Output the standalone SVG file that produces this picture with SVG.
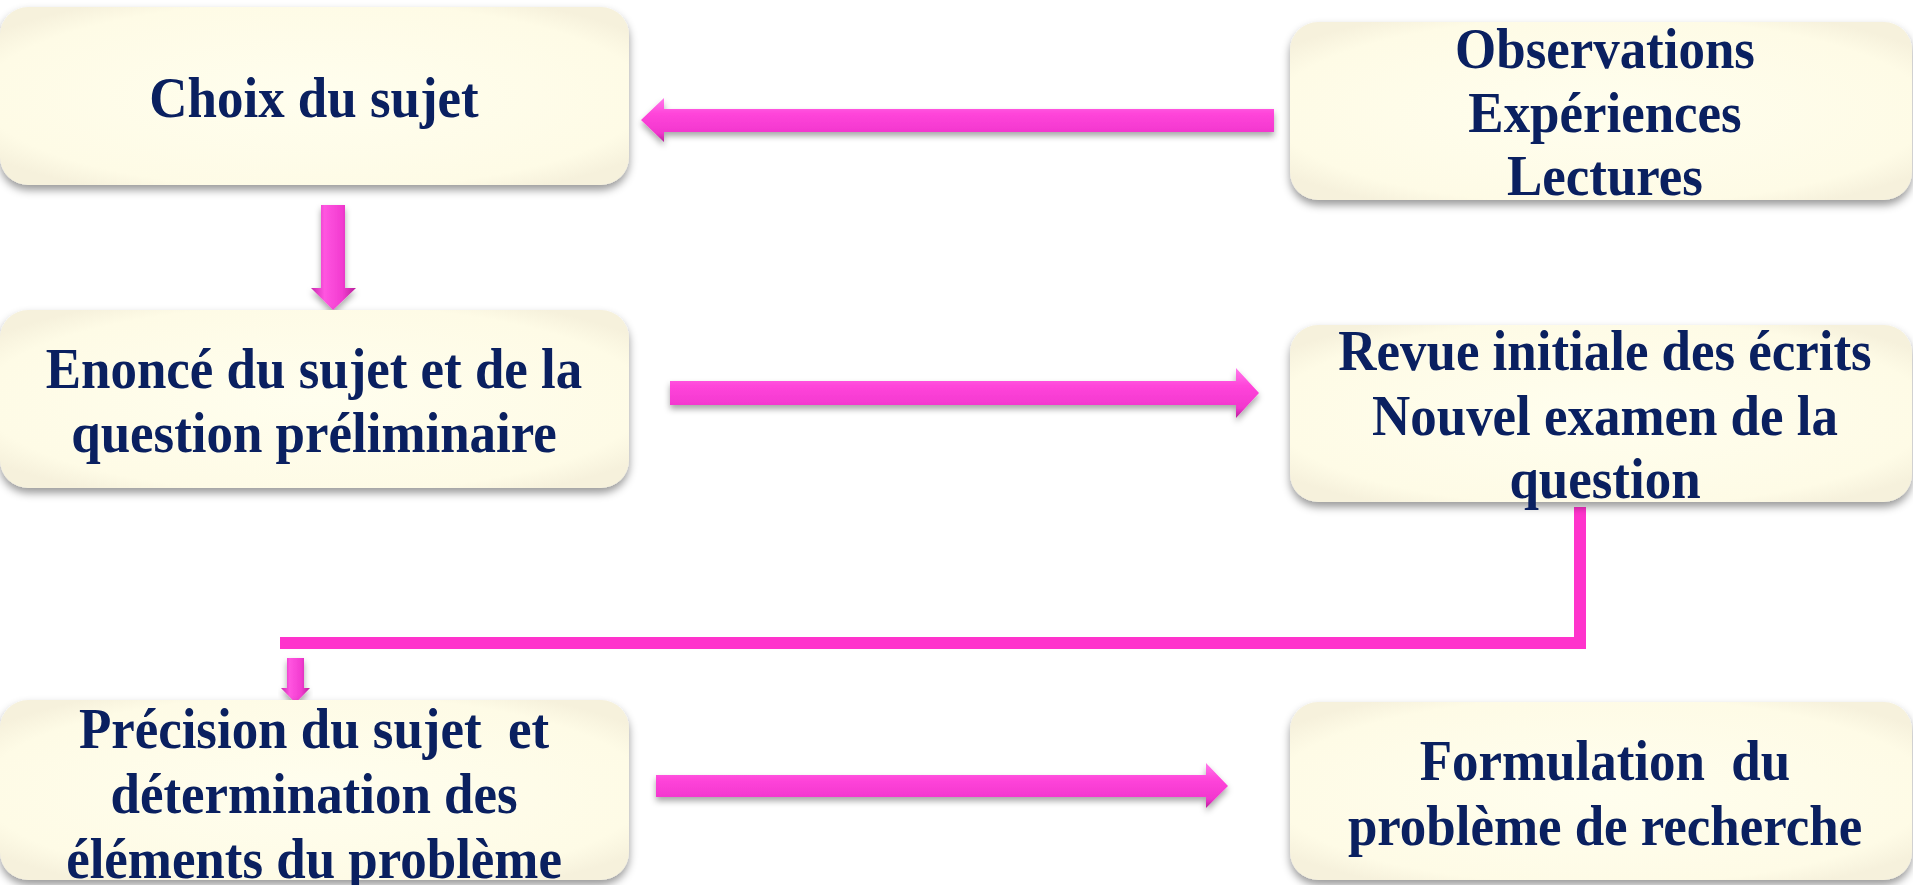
<svg xmlns="http://www.w3.org/2000/svg" width="1913" height="885" viewBox="0 0 1913 885">
<style>
.box{fill:url(#boxg);filter:url(#sh);}
.t{font-family:"Liberation Serif","Times New Roman",serif;font-weight:bold;font-size:56px;fill:#0A2060;text-anchor:middle;white-space:pre;}
.ah{fill:url(#hg);filter:url(#ash);}
.av{fill:url(#vg);filter:url(#ash);}
.ln{fill:none;stroke:#FF33CC;stroke-width:12;}
</style>
<defs>
<radialGradient id="boxg" cx="0.5" cy="0.5" r="0.62">
<stop offset="0" stop-color="#FFFEEE"/>
<stop offset="0.85" stop-color="#FEFBE6"/>
<stop offset="1" stop-color="#F6F1DC"/>
</radialGradient>
<linearGradient id="hg" x1="0" y1="0" x2="0" y2="1">
<stop offset="0" stop-color="#FF7BEB"/>
<stop offset="0.35" stop-color="#FF45DA"/>
<stop offset="0.8" stop-color="#F236CE"/>
<stop offset="1" stop-color="#B8219A"/>
</linearGradient>
<linearGradient id="vg" x1="0" y1="0" x2="1" y2="0">
<stop offset="0" stop-color="#C92AAE"/>
<stop offset="0.3" stop-color="#FF55E0"/>
<stop offset="0.7" stop-color="#F23BD0"/>
<stop offset="1" stop-color="#B8219A"/>
</linearGradient>
<filter id="sh" x="-5%" y="-10%" width="110%" height="125%">
<feDropShadow dx="0" dy="5" stdDeviation="4" flood-color="#000" flood-opacity="0.4"/>
</filter>
<filter id="ash" x="-10%" y="-50%" width="120%" height="220%">
<feDropShadow dx="0" dy="4" stdDeviation="3" flood-color="#000" flood-opacity="0.35"/>
</filter>
</defs>
<rect width="1913" height="885" fill="#FFFFFF"/>

<g id="connectors">
<polygon class="ah" points="641,120 664,98 664,109 1274,109 1274,132 664,132 664,142"/>
<polygon class="av" points="321,205 345,205 345,288 356,288 333,310 311,288 321,288"/>
<polygon class="ah" points="670,381 1236,381 1236,368 1259,393 1236,418 1236,405 670,405"/>
<polyline class="ln" points="1580,507 1580,643 280,643"/>
<polygon class="av" points="287,658 304,658 304,688 310,688 295.5,703 281,688 287,688"/>
<polygon class="ah" points="656,775 1206,775 1206,763 1228,786 1206,808 1206,797 656,797"/>
</g>

<g id="choix">
<rect class="box" x="0" y="7" width="629" height="178" rx="28"/>
<text class="t" transform="translate(314,117) scale(0.945,1)">Choix du sujet</text>
</g>

<g id="observations">
<rect class="box" x="1290" y="22" width="622" height="178" rx="28"/>
<text class="t" transform="translate(1605,68) scale(0.945,1)">Observations</text>
<text class="t" transform="translate(1605,132) scale(0.945,1)">Expériences</text>
<text class="t" transform="translate(1605,195) scale(0.945,1)">Lectures</text>
</g>

<g id="enonce">
<rect class="box" x="0" y="310" width="629" height="178" rx="28"/>
<text class="t" transform="translate(314,388) scale(0.945,1)">Enoncé du sujet et de la</text>
<text class="t" transform="translate(314,452) scale(0.945,1)">question préliminaire</text>
</g>

<g id="revue">
<rect class="box" x="1290" y="325" width="622" height="177" rx="28"/>
<text class="t" transform="translate(1605,370) scale(0.945,1)">Revue initiale des écrits</text>
<text class="t" transform="translate(1605,435) scale(0.945,1)">Nouvel examen de la</text>
<text class="t" transform="translate(1605,498) scale(0.945,1)">question</text>
</g>

<g id="precision">
<rect class="box" x="0" y="700" width="629" height="180" rx="28"/>
<text class="t" transform="translate(314,748) scale(0.945,1)">Précision du sujet  et</text>
<text class="t" transform="translate(314,813) scale(0.945,1)">détermination des</text>
<text class="t" transform="translate(314,878) scale(0.945,1)">éléments du problème</text>
</g>

<g id="formulation">
<rect class="box" x="1290" y="702" width="622" height="178" rx="28"/>
<text class="t" transform="translate(1605,780) scale(0.945,1)">Formulation  du</text>
<text class="t" transform="translate(1605,845) scale(0.945,1)">problème de recherche</text>
</g>
</svg>
